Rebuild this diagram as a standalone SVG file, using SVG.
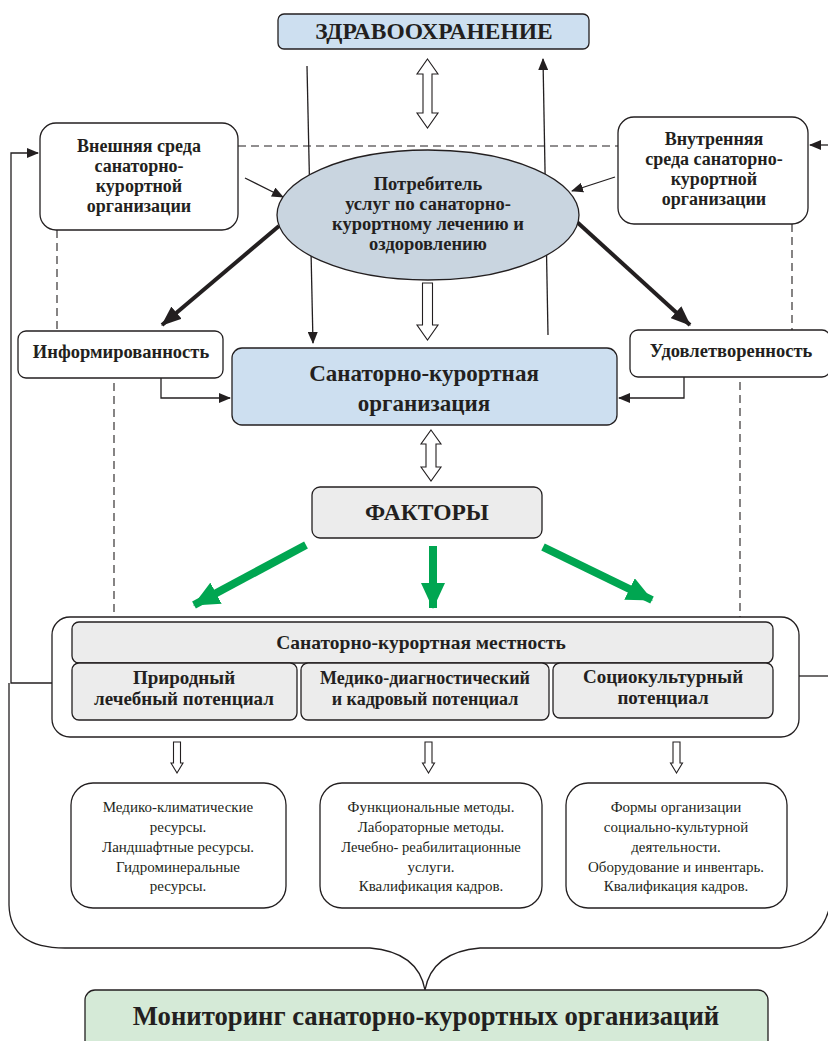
<svg xmlns="http://www.w3.org/2000/svg" width="828" height="1041" viewBox="0 0 828 1041">
<defs>
<style>
.box{stroke:#231f20;stroke-width:1.3;}
.t{font-family:"Liberation Serif","Times New Roman",serif;fill:#231f20;text-anchor:middle;}
.b{font-weight:bold;}
.ln{fill:none;stroke:#231f20;stroke-width:1.3;}
.dash{fill:none;stroke:#231f20;stroke-width:1.1;stroke-dasharray:8,5;}
.hollow{fill:#ffffff;stroke:#231f20;stroke-width:1.1;}
.thick{fill:none;stroke:#231f20;stroke-width:4;}
.green{fill:none;stroke:#00a651;stroke-width:8;}
</style>
<marker id="ah" markerUnits="userSpaceOnUse" markerWidth="12" markerHeight="10" refX="11" refY="5" orient="auto"><path d="M0,0 L12,5 L0,10 Z" fill="#231f20"/></marker>
<marker id="ahT" markerUnits="userSpaceOnUse" markerWidth="20" markerHeight="16" refX="19" refY="8" orient="auto"><path d="M0,0 L20,8 L0,16 Z" fill="#231f20"/></marker>
<marker id="ahG" markerUnits="userSpaceOnUse" markerWidth="26" markerHeight="24" refX="25" refY="12" orient="auto"><path d="M0,0 L26,12 L0,24 Z" fill="#00a651"/></marker>
</defs>

<g id="connectors">
  <line class="dash" x1="238" y1="146" x2="618" y2="146"/>
  <line class="dash" x1="57" y1="230" x2="57" y2="331"/>
  <line class="dash" x1="114" y1="383" x2="114" y2="617"/>
  <line class="dash" x1="792" y1="224" x2="792" y2="330"/>
  <line class="dash" x1="740" y1="382" x2="740" y2="617"/>
  <line class="ln" x1="307" y1="66" x2="313" y2="343" marker-end="url(#ah)"/>
  <line class="ln" x1="548" y1="335" x2="543" y2="59" marker-end="url(#ah)"/>
  <line class="ln" x1="245" y1="178" x2="283" y2="197" marker-end="url(#ah)"/>
  <line class="ln" x1="615" y1="177" x2="572" y2="191" marker-end="url(#ah)"/>
  <line class="thick" x1="279" y1="226" x2="162" y2="325" marker-end="url(#ahT)"/>
  <line class="thick" x1="577" y1="222" x2="690" y2="325" marker-end="url(#ahT)"/>
  <polyline class="ln" points="161,378 161,398 230,398" marker-end="url(#ah)"/>
  <polyline class="ln" points="684,377 684,398 619,398" marker-end="url(#ah)"/>
  <polyline class="ln" points="52,683 11,683 11,153 38,153" marker-end="url(#ah)"/>
  <line class="ln" x1="828" y1="145" x2="810" y2="145" marker-end="url(#ah)"/>
  <line class="ln" x1="799" y1="676" x2="828" y2="676"/>
  <path class="ln" d="M9,683 L9,905 Q10,948 65,948 L370,948 Q418,952 425,990 Q432,952 480,948 L780,948 Q822,944 830,905"/>
  <polygon class="hollow" points="427.5,59 438,74 432,74 432,113 438,113 427.5,128 417,113 423,113 423,74 417,74"/>
  <polygon class="hollow" points="422.5,283 432.5,283 432.5,325 438,325 427.5,340 417,325 422.5,325"/>
  <polygon class="hollow" points="431,430 441,444 436,444 436,467 441,467 431,481 421,467 426,467 426,444 421,444"/>
  <polygon class="hollow" points="173.5,742 180.5,742 180.5,763 183,763 177,773 171,763 173.5,763"/>
  <polygon class="hollow" points="425,742 432,742 432,763 434.5,763 428.5,773 422.5,763 425,763"/>
  <polygon class="hollow" points="673,742 680,742 680,763 682.5,763 676.5,773 670.5,763 673,763"/>
  <line class="green" x1="306" y1="545" x2="194" y2="605" marker-end="url(#ahG)"/>
  <line class="green" x1="433" y1="546" x2="433" y2="608" marker-end="url(#ahG)"/>
  <line class="green" x1="543" y1="547" x2="652" y2="600" marker-end="url(#ahG)"/>
</g>

<g id="zdrav">
  <rect class="box" x="278" y="14" width="311" height="35" rx="6" fill="#cddff0"/>
  <text class="t b" x="434" y="39" font-size="23.5">ЗДРАВООХРАНЕНИЕ</text>
</g>

<g id="vneshnyaya">
  <rect class="box" x="40" y="123" width="198" height="107" rx="16" fill="#ffffff"/>
  <text class="t b" x="139" y="152" font-size="18">Внешняя среда</text>
  <text class="t b" x="139" y="172" font-size="18">санаторно-</text>
  <text class="t b" x="139" y="192" font-size="18">курортной</text>
  <text class="t b" x="139" y="212" font-size="18">организации</text>
</g>

<g id="vnutrennyaya">
  <rect class="box" x="618" y="117" width="190" height="107" rx="16" fill="#ffffff"/>
  <text class="t b" x="714" y="145" font-size="18">Внутренняя</text>
  <text class="t b" x="714" y="165" font-size="18">среда санаторно-</text>
  <text class="t b" x="714" y="185" font-size="18">курортной</text>
  <text class="t b" x="714" y="205" font-size="18">организации</text>
</g>

<g id="potrebitel">
  <ellipse class="box" cx="428" cy="215" rx="151" ry="65" fill="#c9d5e0"/>
  <text class="t b" x="428" y="190" font-size="18.5">Потребитель</text>
  <text class="t b" x="428" y="210" font-size="18.5">услуг по санаторно-</text>
  <text class="t b" x="428" y="230" font-size="18.5">курортному лечению и</text>
  <text class="t b" x="428" y="250" font-size="18.5">оздоровлению</text>
</g>

<g id="inform">
  <rect class="box" x="18" y="331" width="205" height="47" rx="8" fill="#ffffff"/>
  <text class="t b" x="121" y="358" font-size="18.5">Информированность</text>
</g>

<g id="udovl">
  <rect class="box" x="630" y="330" width="200" height="47" rx="8" fill="#ffffff"/>
  <text class="t b" x="731" y="357" font-size="18.5">Удовлетворенность</text>
</g>

<g id="org">
  <rect class="box" x="232" y="348" width="385" height="77" rx="10" fill="#cddff0"/>
  <text class="t b" x="424" y="381" font-size="23">Санаторно-курортная</text>
  <text class="t b" x="424" y="411" font-size="23">организация</text>
</g>

<g id="faktory">
  <rect class="box" x="312" y="487" width="230" height="51" rx="8" fill="#ececec"/>
  <text class="t b" x="427" y="520" font-size="23.5">ФАКТОРЫ</text>
</g>

<g id="mestnost">
  <rect class="box" x="52" y="617" width="747" height="120" rx="18" fill="#ffffff"/>
  <rect class="box" x="72" y="622" width="701" height="41" rx="7" fill="#ececec"/>
  <text class="t b" x="421" y="649" font-size="19.5">Санаторно-курортная местность</text>
</g>

<g id="prirodny">
  <rect class="box" x="72" y="663" width="225" height="57" rx="7" fill="#ececec"/>
  <text class="t b" x="184" y="684" font-size="19">Природный</text>
  <text class="t b" x="184" y="705" font-size="19">лечебный потенциал</text>
</g>

<g id="mediko">
  <rect class="box" x="301" y="663" width="248" height="57" rx="7" fill="#ececec"/>
  <text class="t b" x="425" y="684" font-size="18">Медико-диагностический</text>
  <text class="t b" x="425" y="705" font-size="18">и кадровый потенциал</text>
</g>

<g id="sociokult">
  <rect class="box" x="553" y="663" width="220" height="55" rx="7" fill="#ececec"/>
  <text class="t b" x="663" y="683" font-size="19">Социокультурный</text>
  <text class="t b" x="663" y="704" font-size="19">потенциал</text>
</g>

<g id="res1">
  <rect class="box" x="71" y="783" width="215" height="125" rx="22" fill="#ffffff"/>
  <text class="t" x="178" y="812" font-size="15">Медико-климатические</text>
  <text class="t" x="178" y="832" font-size="15">ресурсы.</text>
  <text class="t" x="178" y="852" font-size="15">Ландшафтные ресурсы.</text>
  <text class="t" x="178" y="872" font-size="15">Гидроминеральные</text>
  <text class="t" x="178" y="891" font-size="15">ресурсы.</text>
</g>

<g id="res2">
  <rect class="box" x="320" y="783" width="222" height="125" rx="22" fill="#ffffff"/>
  <text class="t" x="431" y="812" font-size="15">Функциональные методы.</text>
  <text class="t" x="431" y="832" font-size="15">Лабораторные методы.</text>
  <text class="t" x="431" y="852" font-size="14.6">Лечебно- реабилитационные</text>
  <text class="t" x="431" y="872" font-size="15">услуги.</text>
  <text class="t" x="431" y="891" font-size="15">Квалификация кадров.</text>
</g>

<g id="res3">
  <rect class="box" x="566" y="783" width="221" height="125" rx="22" fill="#ffffff"/>
  <text class="t" x="676" y="812" font-size="15">Формы организации</text>
  <text class="t" x="676" y="832" font-size="15">социально-культурной</text>
  <text class="t" x="676" y="852" font-size="15">деятельности.</text>
  <text class="t" x="676" y="872" font-size="15">Оборудование и инвентарь.</text>
  <text class="t" x="676" y="891" font-size="15">Квалификация кадров.</text>
</g>

<g id="monitoring">
  <rect class="box" x="85" y="990" width="683" height="70" rx="10" fill="#d5ead7"/>
  <text class="t b" x="426" y="1025" font-size="26.7">Мониторинг санаторно-курортных организаций</text>
</g>
</svg>
